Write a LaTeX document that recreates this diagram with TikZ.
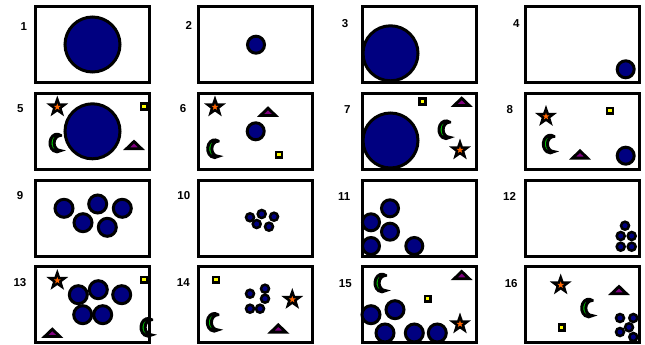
\documentclass[tikz,border=0pt]{standalone}
\usepackage{fontspec}
\setmainfont{Liberation Sans}
\definecolor{navy}{RGB}{0,0,128}
\definecolor{purp}{RGB}{128,0,128}
\definecolor{orng}{RGB}{255,102,0}
\definecolor{moongreen}{RGB}{0,210,0}
\definecolor{yel}{RGB}{255,255,0}
\tikzset{
  panel/.style={draw=black, line width=3pt, fill=white, minimum width=114pt, minimum height=75.5pt, inner sep=0pt},
  lbl/.style={font=\fontsize{11.5}{13}\selectfont\bfseries, inner sep=0pt},
  bigball/.style={circle, draw=black, fill=navy, line width=3pt, minimum size=55pt, inner sep=0pt},
  ball/.style={circle, draw=black, fill=navy, line width=3pt, minimum size=17pt, inner sep=0pt},
  mball/.style={circle, draw=black, fill=navy, line width=3pt, minimum size=18pt, inner sep=0pt},
  sball/.style={circle, draw=black, fill=navy, line width=2.5pt, minimum size=8pt, inner sep=0pt},
  sq/.style={draw=black, fill=yel, line width=2.6pt, minimum size=5.8pt, inner sep=0pt},
  starpic/.pic={
    \path[fill=black] (90:11.5pt) -- (126:4.6pt) -- (162:11.5pt) -- (198:4.6pt) -- (234:11.5pt) -- (270:4.6pt) -- (306:11.5pt) -- (342:4.6pt) -- (18:11.5pt) -- (54:4.6pt) -- cycle;
    \path[fill=orng] (90:3.6pt) -- (126:1.45pt) -- (162:3.6pt) -- (198:1.45pt) -- (234:3.6pt) -- (270:1.45pt) -- (306:3.6pt) -- (342:1.45pt) -- (18:3.6pt) -- (54:1.45pt) -- cycle;
  },
  tripic/.pic={
    \path[fill=purp, draw=black, line width=2.8pt] (-7.5pt,-3.4pt) -- (7.5pt,-3.4pt) -- (0pt,3.8pt) -- cycle;
  },
  moonpic/.pic={
    \path[xshift=1.9pt, fill=moongreen, draw=black, line width=3pt]
      (3.6pt,7.6pt) arc[start angle=60, end angle=300, x radius=7pt, y radius=8.8pt]
      arc[start angle=270, end angle=90, x radius=6.4pt, y radius=7.6pt] -- cycle;
  }
}
\begin{document}
\begin{tikzpicture}[x=1pt, y=-1pt]
\useasboundingbox (0,0) rectangle (645,345);
\fill[white] (0,0) rectangle (645,345);
% panels
\node[panel] (p1) at (92.5,44.25) {};
\node[panel] (p2) at (255.5,44.25) {};
\node[panel] (p3) at (419.5,44.25) {};
\node[panel] (p4) at (582.5,44.25) {};
\node[panel] (p5) at (92.5,131.25) {};
\node[panel] (p6) at (255.5,131.25) {};
\node[panel] (p7) at (419.5,131.25) {};
\node[panel] (p8) at (582.5,131.25) {};
\node[panel] (p9) at (92.5,218.25) {};
\node[panel] (p10) at (255.5,218.25) {};
\node[panel] (p11) at (419.5,218.25) {};
\node[panel] (p12) at (582.5,218.25) {};
\node[panel] (p13) at (92.5,304.25) {};
\node[panel] (p14) at (255.5,304.25) {};
\node[panel] (p15) at (419.5,304.25) {};
\node[panel] (p16) at (582.5,304.25) {};
% labels
\node[lbl] (l1) at (23.7,26.8) {1};
\node[lbl] (l2) at (188.7,25.5) {2};
\node[lbl] (l3) at (345,23.8) {3};
\node[lbl] (l4) at (516.3,24) {4};
\node[lbl] (l5) at (20.3,109) {5};
\node[lbl] (l6) at (183,109) {6};
\node[lbl] (l7) at (347.2,109.3) {7};
\node[lbl] (l8) at (509.7,109.3) {8};
\node[lbl] (l9) at (20,196) {9};
\node[lbl] (l10) at (183.8,196) {10};
\node[lbl] (l11) at (344.2,196.7) {11};
\node[lbl] (l12) at (509.5,196.7) {12};
\node[lbl] (l13) at (20,282.2) {13};
\node[lbl] (l14) at (183.3,282.2) {14};
\node[lbl] (l15) at (345.3,283.3) {15};
\node[lbl] (l16) at (511.2,283.3) {16};
% panel 1-4
\node[bigball] (b1) at (92.5,44.5) {};
\node[ball] (b2) at (256,44.7) {};
\node[bigball] (b3) at (390.5,53.3) {};
\node[ball] (b4) at (625.7,69.3) {};
% panel 5
\node[bigball] (b5) at (92.5,131.3) {};
\pic at (57.3,107) {starpic};
\node[sq] (s5) at (144,106.3) {};
\pic at (55,143) {moonpic};
\pic at (134,145.3) {tripic};
% panel 6
\pic at (215,107) {starpic};
\pic at (268,112) {tripic};
\node[ball] (b6) at (255.7,131.3) {};
\pic at (212.7,148.7) {moonpic};
\node[sq] (s6) at (279,154.7) {};
% panel 7
\node[sq] (s7) at (422.3,101.3) {};
\pic at (461.7,102) {tripic};
\node[bigball] (b7) at (390.5,140.5) {};
\pic at (444,129.7) {moonpic};
\pic at (460,150) {starpic};
% panel 8
\pic at (546,116.5) {starpic};
\node[sq] (s8) at (610,110.7) {};
\pic at (548.3,144) {moonpic};
\pic at (580,154.7) {tripic};
\node[ball] (b8) at (625.7,155.7) {};
% panel 9
\node[mball] (b9a) at (64,208.3) {};
\node[mball] (b9b) at (97.7,204) {};
\node[mball] (b9c) at (122.3,208.3) {};
\node[mball] (b9d) at (83,222.7) {};
\node[mball] (b9e) at (107.3,227.3) {};
% panel 10
\node[sball] (b10a) at (250,217.3) {};
\node[sball] (b10b) at (261.7,214) {};
\node[sball] (b10c) at (274,216.7) {};
\node[sball] (b10d) at (256.7,224) {};
\node[sball] (b10e) at (269,226.7) {};
% panel 11
\node[ball] (b11a) at (390,208.3) {};
\node[ball] (b11b) at (371,222.3) {};
\node[ball] (b11c) at (390,231.7) {};
\node[ball] (b11d) at (371,246) {};
\node[ball] (b11e) at (414.3,246) {};
% panel 12
\node[sball] (b12a) at (625,225.7) {};
\node[sball] (b12b) at (620.7,236) {};
\node[sball] (b12c) at (631.7,236) {};
\node[sball] (b12d) at (620.7,246.7) {};
\node[sball] (b12e) at (631.7,246.7) {};
% panel 13
\pic at (57.3,280.5) {starpic};
\node[sq] (s13) at (144,279.7) {};
\node[mball] (b13a) at (78.3,294.7) {};
\node[mball] (b13b) at (98.3,289.7) {};
\node[mball] (b13c) at (121.7,294.7) {};
\node[mball] (b13d) at (82.7,314.7) {};
\node[mball] (b13e) at (102.7,314.7) {};
\pic at (52.3,333) {tripic};
\pic at (146,327.3) {moonpic};
% panel 14
\node[sq] (s14) at (216,279.7) {};
\node[sball] (b14a) at (250,293.7) {};
\node[sball] (b14b) at (265,288.7) {};
\node[sball] (b14c) at (265,298.7) {};
\node[sball] (b14d) at (250,308.7) {};
\node[sball] (b14e) at (260,308.7) {};
\pic at (292.3,299.5) {starpic};
\pic at (212.3,322.3) {moonpic};
\pic at (278.3,328.7) {tripic};
% panel 15
\pic at (380,283) {moonpic};
\pic at (461.7,275.3) {tripic};
\node[sq] (s15) at (427.7,298.7) {};
\node[mball] (b15a) at (371,314.7) {};
\node[mball] (b15b) at (395,309.7) {};
\node[mball] (b15c) at (385,333) {};
\node[mball] (b15d) at (414.3,333) {};
\node[mball] (b15e) at (437.3,333) {};
\pic at (460,324) {starpic};
% panel 16
\pic at (560.7,285) {starpic};
\pic at (619,290.3) {tripic};
\pic at (586.7,308) {moonpic};
\node[sq] (s16) at (561.7,327.3) {};
\node[sball] (b16a) at (620,318) {};
\node[sball] (b16b) at (633.3,318) {};
\node[sball] (b16c) at (629,327.3) {};
\node[sball] (b16d) at (620,332) {};
\node[sball] (b16e) at (633.3,337) {};
\end{tikzpicture}
\end{document}
